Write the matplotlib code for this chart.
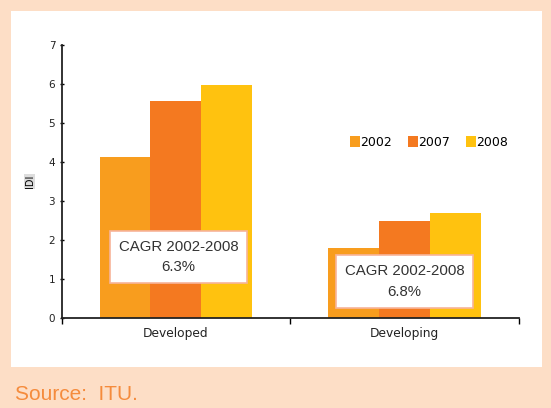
import matplotlib
matplotlib.use("Agg")
import matplotlib.pyplot as plt
from matplotlib.patches import Rectangle
import numpy as np

categories = ["Developed", "Developing"]
years = ["2002", "2007", "2008"]
values = {
    "2002": [4.13, 1.81],
    "2007": [5.57, 2.48],
    "2008": [5.98, 2.69],
}
colors = ["#F89D1E", "#F47920", "#FFC20F"]
cagr_labels = ["CAGR 2002-2008\n6.3%", "CAGR 2002-2008\n6.8%"]
y_ticks = [0, 1, 2, 3, 4, 5, 6, 7]

plt.rcParams['font.family'] = ['Liberation Sans', 'DejaVu Sans']
dv = ['DejaVu Sans']

W, H = 551, 408
fig = plt.figure(figsize=(W / 100, H / 100), dpi=100)
fig.patch.set_facecolor("#FDDEC6")

bg = fig.add_axes([0, 0, 1, 1], zorder=0)
bg.set_xlim(0, W)
bg.set_ylim(H, 0)
bg.axis("off")
bg.add_patch(Rectangle((11, 11), 542 - 11, 367 - 11, facecolor="white", edgecolor="none"))
bg.text(15, 395, "Source:  ITU.", color="#F58B3C", fontsize=15,
        va="center", ha="left")

ax = fig.add_axes([61.5 / W, 1 - 318.3 / H, (519 - 61.5) / W, (318.3 - 45) / H], zorder=1)
ax.set_facecolor("none")

x = np.arange(len(categories))
bw = 0.222
for i, (yr, c) in enumerate(zip(years, colors)):
    ax.bar(x + (i - 1) * bw, values[yr], width=bw, color=c, label=yr, zorder=2)

ax.set_xlim(-0.5, 1.5)
ax.set_ylim(0, 7)
ax.set_yticks(y_ticks)
ax.tick_params(axis='y', labelsize=7.5, length=3, width=1, pad=3, direction='inout')
ax.set_xticks(x)
ax.set_xticklabels(categories)
ax.tick_params(axis='x', which='major', length=0, labelsize=8.8, pad=6)
ax.set_xticks([-0.5, 0.5, 1.5], minor=True)
ax.tick_params(axis='x', which='minor', length=4, width=1, direction='out')
for lab in ax.get_xticklabels() + ax.get_yticklabels():
    lab.set_family(dv)
    lab.set_color("#222222")
for s in ["top", "right"]:
    ax.spines[s].set_visible(False)
for s in ["left", "bottom"]:
    ax.spines[s].set_linewidth(1.3)
    ax.spines[s].set_color("#222222")

ax.set_ylabel("IDI", fontsize=7, labelpad=10, family=dv,
              bbox=dict(facecolor="#DDDDDD", edgecolor="none", pad=0.5))

leg = ax.legend(loc="upper left", bbox_to_anchor=(0.605, 0.708), ncol=3, frameon=False,
                prop={'family': dv, 'size': 9}, handlelength=0.85, handleheight=0.95,
                handletextpad=0.0, columnspacing=1.25)

for xi, (cx, cy) in enumerate([(0.012, 1.57), (1.0, 0.94)]):
    ax.text(cx, cy, cagr_labels[xi], ha="center", va="center", fontsize=10.8,
            color="#333333", linespacing=1.6, zorder=5,
            bbox=dict(facecolor="white", edgecolor="#F7B49A", linewidth=1.2,
                      boxstyle="square,pad=0.6"))

fig.savefig("out.png", dpi=100, facecolor=fig.get_facecolor())
